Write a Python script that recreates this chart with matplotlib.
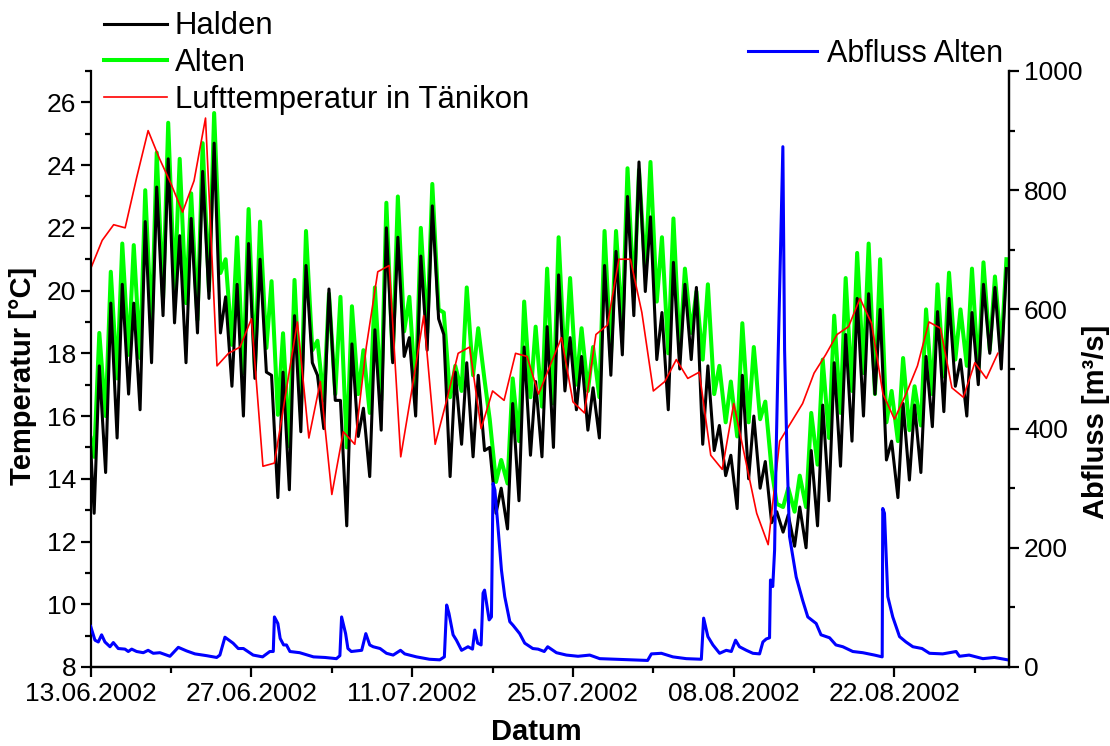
import matplotlib
matplotlib.use("Agg")
import matplotlib.pyplot as plt
import matplotlib.dates as mdates
from matplotlib.ticker import MultipleLocator
import numpy as np
import pandas as pd

plt.rcParams['font.family'] = ['Liberation Sans', 'DejaVu Sans']

start = pd.Timestamp("2002-06-13")
ende = pd.Timestamp("2002-09-01")

# Wassertemperatur: Tagesminimum (~07 Uhr) und Tagesmaximum (~18 Uhr), 13.06. - 31.08.2002
halden_start = 15.0
halden_min = [12.9, 14.2, 15.3, 16.7, 16.2, 17.7, 19.2, 18.97, 17.7, 18.65,
              19.75, 18.65, 16.95, 16.0, 17.2, 17.4, 13.4, 13.65, 15.5, 17.7,
              15.6, 16.5, 12.5, 15.35, 14.07, 15.55, 17.7, 17.9, 16.0, 18.1,
              19.1, 14.07, 15.1, 14.7, 14.9, 12.9, 12.4, 13.3, 14.75, 14.7,
              15.0, 16.8, 16.2, 15.55, 15.3, 17.3, 17.95, 19.2, 19.97, 17.8,
              16.2, 17.5, 17.8, 15.1, 14.9, 14.1, 13.05, 14.0, 13.7, 12.6,
              12.3, 11.85, 11.8, 12.5, 13.3, 14.4, 15.2, 16.0, 16.7, 14.6,
              13.4, 13.96, 14.2, 15.66, 16.14, 16.95, 16.0, 17.0, 18.0, 17.5]
halden_max = [17.6, 19.6, 20.2, 19.6, 22.2, 23.3, 24.2, 21.75, 22.3, 23.8,
              24.7, 19.8, 20.2, 21.5, 21.0, 17.3, 17.4, 19.2, 20.8, 17.3,
              20.05, 16.5, 18.3, 16.25, 18.75, 22.0, 21.7, 18.5, 21.1, 22.7,
              18.6, 17.4, 17.7, 17.3, 15.0, 13.7, 16.4, 18.2, 17.1, 18.85,
              20.5, 18.5, 17.9, 16.9, 20.8, 21.25, 23.0, 24.1, 22.35, 19.3,
              20.9, 20.2, 20.1, 17.6, 15.7, 14.75, 17.3, 16.0, 14.55, 12.95,
              12.85, 13.1, 14.9, 16.35, 17.7, 18.6, 19.75, 19.9, 19.4, 15.2,
              16.4, 16.35, 17.9, 19.33, 19.75, 17.8, 19.3, 20.2, 20.1, 20.7]

alten_start = 15.3
alten_min = [14.7, 16.0, 17.2, 17.95, 17.85, 18.75, 19.75, 19.97, 19.6, 19.07,
             20.0, 20.56, 18.27, 17.37, 17.47, 18.17, 16.04, 15.03, 16.14, 18.1,
             16.5, 16.7, 15.0, 16.7, 16.1, 16.5, 17.8, 18.7, 16.7, 18.65,
             19.4, 16.6, 16.8, 17.3, 17.15, 13.9, 13.85, 15.2, 16.6, 16.3,
             16.4, 17.5, 17.0, 16.8, 16.6, 17.9, 18.75, 19.8, 20.55, 19.65,
             18.0, 18.0, 18.65, 17.8, 16.7, 15.8, 15.35, 15.8, 15.9, 14.3,
             13.1, 12.95, 13.1, 14.45, 15.3, 16.1, 16.8, 17.37, 16.7, 15.8,
             15.2, 15.55, 15.7, 16.7, 17.26, 17.8, 17.6, 17.37, 18.1, 18.1]
alten_max = [18.65, 20.6, 21.5, 21.45, 23.2, 24.4, 25.35, 24.2, 23.1, 24.7,
             25.66, 21.0, 21.7, 22.6, 22.2, 20.3, 18.64, 20.34, 21.9, 18.4,
             19.9, 19.8, 19.5, 18.1, 20.1, 22.8, 23.0, 19.8, 22.0, 23.4,
             19.3, 17.6, 20.1, 18.8, 15.9, 14.6, 17.2, 19.65, 18.85, 20.7,
             21.7, 20.4, 18.8, 18.2, 21.9, 21.9, 23.9, 23.85, 24.1, 21.7,
             22.3, 20.7, 19.97, 20.2, 17.6, 17.1, 18.96, 18.2, 16.46, 13.2,
             13.7, 14.1, 16.1, 17.8, 19.2, 20.4, 21.2, 21.5, 21.0, 16.8,
             17.85, 16.95, 19.4, 20.2, 20.57, 19.4, 20.7, 20.9, 20.45, 21.0]

# Lufttemperatur Tänikon, ein Wert pro Tag
luft = [20.7, 21.6, 22.1, 22.0, 23.6, 25.1, 24.2, 23.4, 22.5, 23.5,
        25.5, 17.6, 18.0, 18.2, 19.1, 14.4, 14.5, 16.75, 19.0, 15.3,
        17.1, 13.5, 15.5, 15.1, 18.2, 20.6, 20.8, 14.7, 16.9, 19.2,
        15.1, 16.5, 18.0, 18.2, 15.6, 16.8, 16.5, 18.0, 17.9, 16.7,
        17.6, 18.5, 16.45, 16.1, 18.6, 18.9, 21.0, 21.0, 19.3, 16.8,
        17.1, 17.8, 17.2, 17.4, 14.75, 14.3, 16.4, 14.65, 12.9, 11.9,
        15.2, 15.8, 16.4, 17.37, 17.95, 18.6, 18.85, 19.75, 18.96, 16.7,
        15.9, 16.7, 17.6, 19.0, 18.8, 16.9, 16.6, 17.7, 17.2, 18.0]

# Abfluss Alten [m3/s], Zeit in Tagen ab 13.06.2002
abfluss_tag = [0.0, 0.37, 0.66, 0.95, 1.24, 1.68, 1.97, 2.4, 2.99, 3.27,
               3.57, 4.0, 4.58, 5.0, 5.45, 6.03, 6.9, 7.63, 8.35, 9.08,
               10.1, 10.97, 11.25, 11.69, 12.4, 12.85, 13.3, 14.15, 14.97, 15.6,
               15.9, 16.0, 16.3, 16.5, 16.8, 17.05, 17.35, 18.2, 19.4, 20.4,
               21.4, 21.7, 21.85, 22.2, 22.4, 22.7, 23.6, 23.96, 24.3, 24.6,
               25.2, 25.76, 26.34, 26.98, 27.35, 28.37, 29.5, 30.4, 30.8, 31.0,
               31.2, 31.56, 31.85, 32.3, 32.86, 33.25, 33.45, 33.7, 34.0, 34.17,
               34.3, 34.7, 34.9, 35.04, 35.2, 35.47, 35.77, 36.06, 36.5, 36.78,
               37.36, 37.8, 38.5, 38.96, 39.5, 39.8, 40.56, 41.43, 42.44, 43.46,
               44.33, 45.78, 47.2, 48.5, 48.83, 49.7, 50.7, 51.87, 53.18, 53.38,
               53.75, 54.19, 54.77, 55.35, 55.79, 56.16, 56.5, 57.1, 57.67, 58.25,
               58.54, 58.83, 59.12, 59.2, 59.4, 59.56, 59.7, 59.86, 60.28, 60.43,
               60.63, 60.86, 61.44, 62.0, 62.45, 63.18, 63.6, 64.35, 64.9, 65.5,
               66.37, 67.24, 68.26, 68.93, 68.98, 69.13, 69.42, 69.85, 70.44, 71.0,
               71.6, 72.4, 73.05, 74.2, 75.37, 75.66, 76.5, 77.7, 78.7, 79.86]
abfluss = [68, 45, 42, 54, 42, 34, 41, 31, 30, 26,
           30, 26, 24, 28, 23, 24, 18, 33, 27, 22,
           19, 16, 20, 50, 40, 31, 31, 20, 17, 26,
           26, 84, 73, 48, 37, 37, 26, 24, 17, 16,
           14, 19, 84, 56, 31, 26, 28, 56, 37, 34,
           31, 23, 20, 28, 22, 17, 13, 12, 17, 104,
           90, 54, 45, 28, 34, 30, 62, 40, 37, 124,
           129, 79, 84, 308, 297, 235, 163, 118, 76, 70,
           56, 40, 31, 30, 26, 34, 24, 20, 18, 20,
           14, 13, 12, 11, 22, 23, 17, 14, 13, 82,
           51, 37, 23, 28, 26, 45, 34, 28, 23, 22,
           42, 47, 49, 146, 135, 196, 364, 515, 873, 532,
           364, 219, 151, 112, 84, 73, 54, 49, 37, 34,
           26, 24, 20, 17, 266, 258, 118, 84, 51, 42,
           34, 31, 23, 22, 26, 18, 20, 14, 16, 12]


def tagesgang(wert0, mins, maxs):
    # min ca. 07 Uhr, max ca. 18 Uhr
    tage = np.arange(len(mins))
    t = np.concatenate([[0.0], np.column_stack([tage + 0.3, tage + 0.75]).ravel()])
    v = np.concatenate([[wert0], np.column_stack([mins, maxs]).ravel()])
    return start + pd.to_timedelta(t, unit="D"), v


t_halden, v_halden = tagesgang(halden_start, halden_min, halden_max)
t_alten, v_alten = tagesgang(alten_start, alten_min, alten_max)
t_luft = start + pd.to_timedelta(np.arange(len(luft)), unit="D")
t_abfluss = start + pd.to_timedelta(abfluss_tag, unit="D")

fig = plt.figure(figsize=(11.1, 7.46), dpi=100)
ax = fig.add_axes([90.7 / 1110, 79 / 746, 918.6 / 1110, 596 / 746])
ax2 = ax.twinx()

l_alten, = ax.plot(t_alten, v_alten, color='#00ff00', lw=2.9, solid_joinstyle='round')
l_halden, = ax.plot(t_halden, v_halden, color='black', lw=2.2, solid_joinstyle='round')
l_luft, = ax.plot(t_luft, luft, color='#ff0000', lw=1.2)
l_abfluss, = ax2.plot(t_abfluss, abfluss, color='#0000ff', lw=2.2)

ax.set_xlim(start, ende)
ax.set_ylim(8, 27)
ax2.set_ylim(0, 1000)

ax.set_xticks(pd.date_range(start, ende, freq='14D'))
ax.set_xticks(pd.date_range(start, ende, freq='7D'), minor=True)
ax.xaxis.set_major_formatter(mdates.DateFormatter('%d.%m.%Y'))
ax.yaxis.set_major_locator(MultipleLocator(2))
ax.yaxis.set_minor_locator(MultipleLocator(1))
ax2.yaxis.set_major_locator(MultipleLocator(200))
ax2.yaxis.set_minor_locator(MultipleLocator(100))

for a in (ax, ax2):
    a.spines['top'].set_visible(False)
    for s in a.spines.values():
        s.set_linewidth(1.6)
    a.tick_params(which='major', direction='out', length=7, width=1.6, labelsize=19)
    a.tick_params(which='minor', direction='out', length=4, width=1.6)
ax2.spines['left'].set_visible(False)

ax.set_ylabel('Temperatur [°C]', fontsize=21, fontweight='bold')
ax.yaxis.set_label_coords(-0.0585, 0.488)
ax2.set_ylabel('Abfluss [m³/s]', fontsize=21, fontweight='bold')
ax2.yaxis.set_label_coords(1.079, 0.411)
ax.set_xlabel('Datum', fontsize=21, fontweight='bold')
ax.xaxis.set_label_coords(0.485, -0.0856)

fig.legend(handles=[l_halden, l_alten, l_luft],
           labels=['Halden', 'Alten', 'Lufttemperatur in Tänikon'],
           loc='center left', bbox_to_anchor=(104 / 1110, 1 - 63 / 746),
           frameon=False, fontsize=22.4, handlelength=2.02, handletextpad=0.26,
           borderpad=0, borderaxespad=0, labelspacing=0.21)
fig.legend(handles=[l_abfluss], labels=['Abfluss Alten'],
           loc='center left', bbox_to_anchor=(747.7 / 1110, 1 - 54 / 746),
           frameon=False, fontsize=22, handlelength=2.28, handletextpad=0.31,
           borderpad=0, borderaxespad=0)

fig.savefig('out.png', dpi=100)
